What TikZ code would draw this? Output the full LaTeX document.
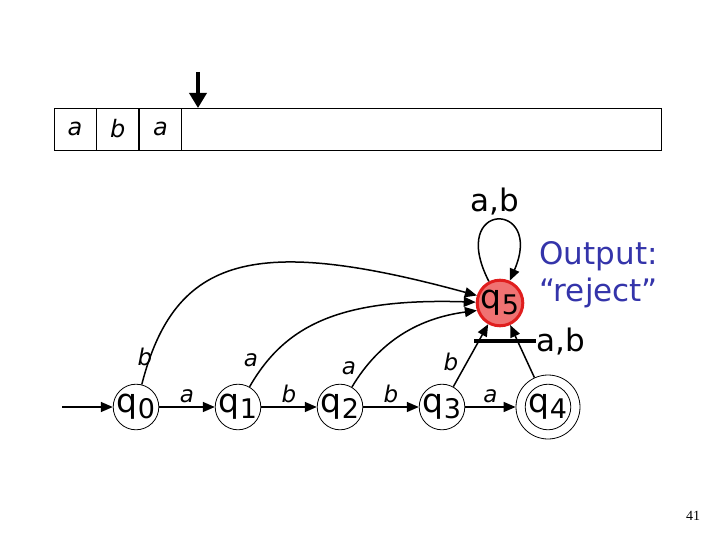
\documentclass[tikz,border=0pt]{standalone}
\usepackage{fontspec}
\setmainfont{DejaVu Sans}
\newfontfamily\pagefont{Liberation Serif}
\usetikzlibrary{arrows.meta, positioning}
\definecolor{TrapFill}{HTML}{F07272}
\definecolor{TrapRed}{HTML}{E01E1E}
\definecolor{OutBlue}{HTML}{3434AA}
\newcommand{\qs}[1]{q\raisebox{-6pt}{\fontsize{27}{27}\selectfont #1}}
\tikzset{
  state/.style={draw, circle, line width=0.8pt, minimum size=42pt, inner sep=0pt, font=\fontsize{33}{33}\selectfont},
  edge/.style={-{Triangle[length=12pt,width=10pt]}, line width=1.5pt},
  sym/.style={font=\fontsize{23}{23}\selectfont\itshape, inner sep=1pt},
  bigsym/.style={font=\fontsize{31}{31}\selectfont, inner sep=1pt},
  cell/.style={draw, line width=0.8pt, minimum width=42pt, minimum height=42pt, inner sep=0pt, font=\fontsize{24}{24}\selectfont\itshape}
}
\begin{document}
\begin{tikzpicture}[x=1pt, y=-1pt]
\useasboundingbox (0,0) rectangle (720,540);
% tape
\node[draw, line width=0.8pt, minimum width=607pt, minimum height=42pt, inner sep=0pt] (tape) at (357.5,129) {};
\node[cell, anchor=west] (c1) at (tape.west) {a};
\node[cell, right=0pt of c1] (c2) {b};
\node[cell, right=0pt of c2] (c3) {a};
\coordinate (headtop) at (198,72);
\coordinate (headtip) at (198,108);
\draw[-{Triangle[length=15pt,width=17pt]}, line width=3.5pt] (headtop) -- (headtip);
% states
\node[state] (q0) at (136,407) {\qs{0}};
\node[state] (q1) at (238,407) {\qs{1}};
\node[state] (q2) at (340,407) {\qs{2}};
\node[state] (q3) at (442,407) {\qs{3}};
\node[state, minimum size=64pt] (q4) at (548,407) {};
\node[state, minimum size=40pt] (q4in) at (q4) {\qs{4}};
\node[state, fill=TrapFill, draw=TrapRed, line width=3pt] (q5) at (500,303) {\qs{5}};
\coordinate (start) at (62,407);
% transitions
\draw[edge] (start) -- (q0);
\draw[edge] (q0) -- node[sym, above=2pt] (l01) {a} (q1);
\draw[edge] (q1) -- node[sym, above=2pt] (l12) {b} (q2);
\draw[edge] (q2) -- node[sym, above=2pt] (l23) {b} (q3);
\draw[edge] (q3) -- node[sym, above=2pt] (l34) {a} (q4);
\draw[edge] (q0) .. controls (175,255) and (255,235) .. (q5.162);
\draw[edge] (q1) .. controls (285,325) and (340,298) .. (q5.178);
\draw[edge] (q2) .. controls (380,340) and (420,318) .. (q5.198);
\draw[edge] (q3) -- (q5);
\draw[edge] (q4) -- (q5);
\draw[edge] (q5) .. controls (447,200) and (545,200) .. (q5);
\node[sym] (l05) at (145,357) {b};
\node[sym] (l15) at (251,360) {a};
\node[sym] (l25) at (349,368) {a};
\node[sym] (l35) at (451,362) {b};
\draw[line width=3.5pt] (474,341) -- (536,341);
\node[bigsym] (l45) at (561,342) {a,b};
\node[bigsym] (l55) at (495,202) {a,b};
% output
\node[font=\fontsize{31}{31}\selectfont, text=OutBlue, align=left, anchor=west] (out) at (536,275) {Output:\\[6pt]“reject”};
\node[font=\pagefont\fontsize{14}{14}\selectfont] (page) at (693,516) {41};
\end{tikzpicture}
\end{document}
